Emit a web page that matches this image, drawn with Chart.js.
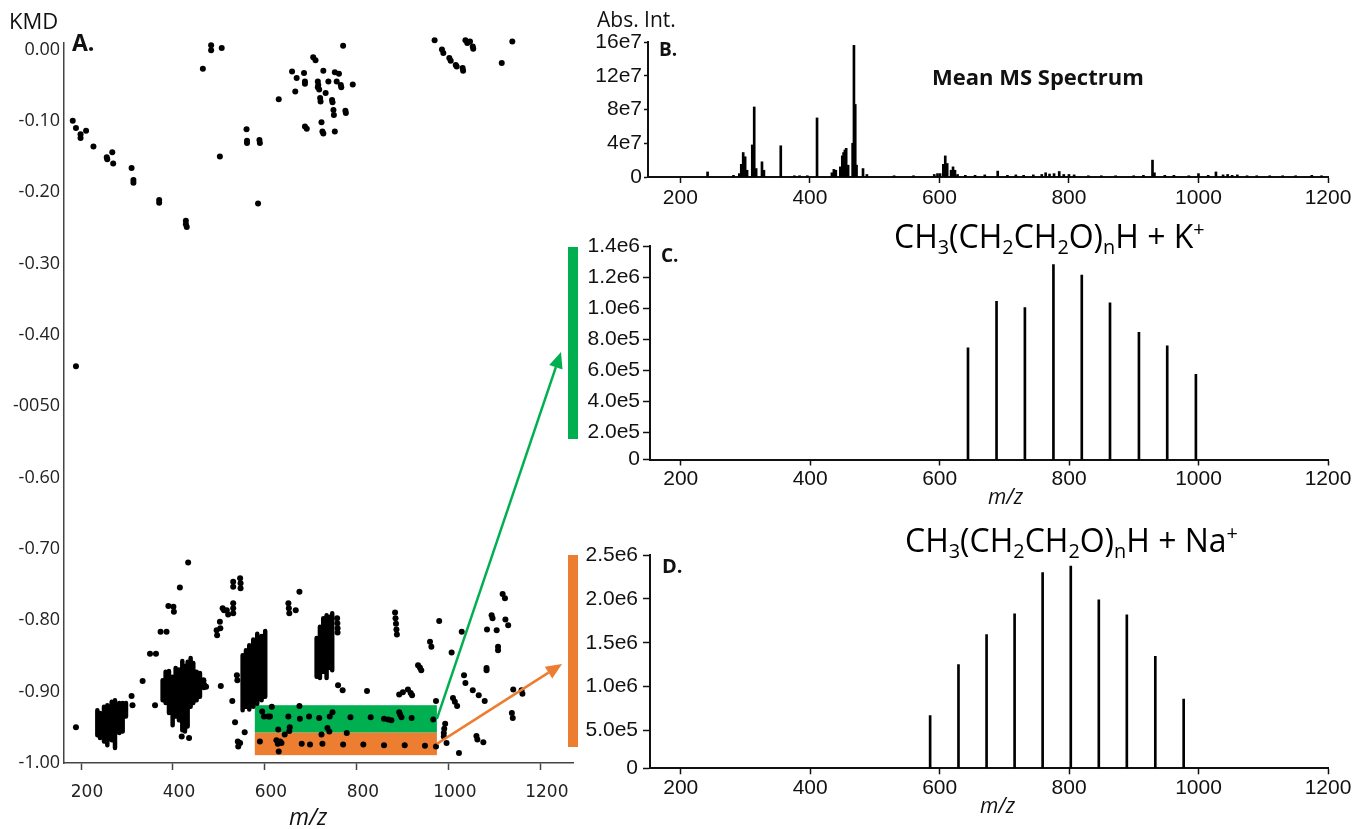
<!DOCTYPE html>
<html>
<head>
<meta charset="utf-8">
<script src="https://cdn.jsdelivr.net/npm/chart.js@4.4.0/dist/chart.umd.min.js"></script>
<style>
  body { margin: 0; background: #fff; }
  #wrap { position: relative; width: 1368px; height: 829px; overflow: hidden; }
  canvas { position: absolute; }
  .t { position: absolute; white-space: nowrap; line-height: 1; color: #111; font-family: "Open Sans", sans-serif; }
  .b { font-weight: bold; }
  .i { font-style: italic; }
  .sub { font-size: 0.62em; position: relative; top: 0.3em; }
  .sup { font-size: 0.62em; position: relative; top: -0.6em; }
</style>
</head>
<body>
<div id="wrap">
  <canvas id="chartA" width="580" height="829" style="left:0;top:0"></canvas>
  <canvas id="chartB" width="788" height="215" style="left:580px;top:0"></canvas>
  <canvas id="chartC" width="788" height="290" style="left:580px;top:220px"></canvas>
  <canvas id="chartD" width="788" height="309" style="left:580px;top:520px"></canvas>

  <div class="t" style="left:9px;top:9px;font-size:22px">KMD</div>
  <div class="t b" style="left:72px;top:31px;font-size:23px">A.</div>
  <div class="t i" style="left:289px;top:805px;font-size:23px">m/z</div>

  <div class="t" style="left:597px;top:9px;font-size:21px">Abs. Int.</div>
  <div class="t b" style="left:659px;top:40px;font-size:19px">B.</div>
  <div class="t b" style="left:932px;top:65px;font-size:22px">Mean MS Spectrum</div>

  <div class="t b" style="left:661px;top:246px;font-size:19px">C.</div>
  <div class="t" style="left:894px;top:220px;font-size:32px;color:#000">CH<span class="sub">3</span>(CH<span class="sub">2</span>CH<span class="sub">2</span>O)<span class="sub">n</span>H + K<span class="sup">+</span></div>
  <div class="t i" style="left:988px;top:486px;font-size:21px">m/z</div>

  <div class="t b" style="left:662px;top:556px;font-size:20px">D.</div>
  <div class="t" style="left:905px;top:524px;font-size:32px;color:#000">CH<span class="sub">3</span>(CH<span class="sub">2</span>CH<span class="sub">2</span>O)<span class="sub">n</span>H + Na<span class="sup">+</span></div>
  <div class="t i" style="left:980px;top:795px;font-size:21px">m/z</div>
</div>

<script>
// ---- panel A: KMD plot, single spots ----
const ptMz = [182, 189, 199, 199, 211, 227, 256, 257, 268, 270, 310, 314, 314, 370, 370, 428, 428, 430,
  465, 483, 483, 506, 502, 560, 561, 561, 588, 589, 585, 630, 659, 669, 666, 685, 687, 687, 705, 710,
  720, 721, 727, 715, 716, 715, 718, 732, 720, 721, 738, 687, 691, 723, 725, 727, 756, 770, 752, 761,
  756, 765, 766, 791, 746, 747, 749, 750, 775, 776, 752, 967, 969, 985, 988, 1001, 1004, 1015, 1017,
  1030, 1031, 1031, 1036, 1040, 1046, 1052, 1053, 1115, 1138, 189,
  189, 310, 312, 334, 361, 350, 363, 373, 386, 390, 401, 402, 415, 433, 419, 435, 466, 468, 472,
  495, 496, 502, 503, 508, 511, 517, 520, 531, 531, 531, 531, 531, 546, 547, 547, 504, 529, 535, 539,
  540, 541, 542, 546, 556, 651, 652, 653, 667, 675, 759, 769, 822, 892, 900, 911, 917, 920, 933, 937,
  940, 959, 962, 972, 979, 1006, 1028, 1033, 1036, 1052, 1065, 1078, 1009, 1013, 1018, 992, 990, 989,
  989, 995, 1022, 1060, 1062, 1075, 1093, 1095, 1117, 1122, 1123, 1129, 1083, 1104, 1107, 1107, 1082,
  1082, 1140, 1158, 1160, 1137, 1139,
  757, 757.5, 758, 758, 883, 884, 885, 886, 887,
  607, 611, 615, 594, 598, 651, 675, 676, 696, 718, 741, 747, 786, 830, 859, 868, 875, 892, 894, 897,
  919, 966, 654, 653, 643, 629, 723, 736, 740, 778, 589, 625, 628, 633, 636, 630, 680, 698, 725, 770,
  814, 859, 904, 948, 972];
const ptKmd = [-0.100, -0.110, -0.119, -0.124, -0.114, -0.136, -0.151, -0.154, -0.144, -0.160, -0.166, -0.183, -0.187, -0.211, -0.215, -0.240, -0.245, -0.249,
  -0.027, 0.006, -0.001, 0.002, -0.150, -0.112, -0.128, -0.131, -0.127, -0.131, -0.216, -0.070, -0.031, -0.040, -0.059, -0.033, -0.045, -0.048, -0.011, -0.015,
  0.018, 0.016, -0.030, -0.045, -0.050, -0.053, -0.056, -0.061, -0.068, -0.073, -0.045, -0.108, -0.111, -0.102, -0.115, -0.118, 0.016, 0.005, -0.032, -0.034,
  -0.045, -0.050, -0.053, -0.049, -0.071, -0.074, -0.085, -0.092, -0.086, -0.089, -0.115, 0.017, 0.013, 0.000, -0.005, -0.012, -0.016, -0.022, -0.024,
  -0.026, -0.030, 0.016, 0.013, 0.009, 0.011, 0.004, 0.001, -0.019, 0.011, -0.444,
  -0.950, -0.906, -0.919, -0.885, -0.919, -0.847, -0.847, -0.816, -0.816, -0.780, -0.781, -0.788, -0.754, -0.719, -0.963, -0.965, -0.884, -0.891, -0.893,
  -0.814, -0.821, -0.802, -0.811, -0.783, -0.786, -0.786, -0.792, -0.776, -0.783, -0.790, -0.746, -0.753, -0.741, -0.748, -0.755, -0.892, -0.913, -0.943, -0.877,
  -0.884, -0.970, -0.977, -0.972, -0.957, -0.776, -0.783, -0.790, -0.786, -0.760, -0.891, -0.898, -0.899, -0.904, -0.901, -0.897, -0.902, -0.905, -0.863, -0.866,
  -0.870, -0.830, -0.837, -0.913, -0.801, -0.845, -0.816, -0.877, -0.888, -0.898, -0.905, -0.913, -0.909, -0.914, -0.920, -0.945, -0.952, -0.958,
  -0.963, -0.972, -0.986, -0.962, -0.967, -0.971, -0.793, -0.797, -0.763, -0.769, -0.799, -0.807, -0.813, -0.814, -0.837, -0.842, -0.867,
  -0.870, -0.897, -0.898, -0.903, -0.930, -0.937,
  -0.797, -0.804, -0.811, -0.817, -0.789, -0.797, -0.805, -0.813, -0.820,
  -0.935, -0.935, -0.921, -0.928, -0.935, -0.935, -0.920, -0.938, -0.935, -0.937, -0.935, -0.929, -0.936, -0.936, -0.938, -0.939, -0.940, -0.929, -0.932, -0.936,
  -0.937, -0.939, -0.950, -0.955, -0.960, -0.953, -0.960, -0.951, -0.956, -0.958, -0.970, -0.968, -0.973, -0.970, -0.972, -0.984, -0.973, -0.974, -0.973, -0.974,
  -0.974, -0.975, -0.975, -0.976, -0.977];

// ---- panel A: dense homologous columns (top / bottom of each stack of spots) ----
const colMz = [235.5, 241.3, 250, 257.2, 266.7, 273.9, 283.3, 290.6, 297.8,
  377.5, 384, 391.3, 399.3, 405.8, 413, 420.3, 426.1, 431.9, 438.4, 444.2, 451.4, 458.7, 467.4,
  551.5, 558.7, 565.9, 574.6, 583.3, 592.8, 600.6,
  712.4, 719.6, 726.8, 734.1, 741.3, 746.3];
const colTop = [-0.926, -0.930, -0.921, -0.919, -0.914, -0.912, -0.916, -0.916, -0.916,
  -0.884, -0.872, -0.871, -0.879, -0.867, -0.869, -0.857, -0.864, -0.858, -0.853, -0.860, -0.872, -0.874, -0.884,
  -0.849, -0.842, -0.835, -0.827, -0.819, -0.822, -0.815,
  -0.825, -0.809, -0.797, -0.793, -0.795, -0.790];
const colBot = [-0.961, -0.965, -0.970, -0.975, -0.968, -0.979, -0.958, -0.956, -0.935,
  -0.912, -0.916, -0.930, -0.947, -0.935, -0.940, -0.954, -0.956, -0.949, -0.921, -0.916, -0.912, -0.907, -0.895,
  -0.926, -0.921, -0.925, -0.921, -0.917, -0.912, -0.907,
  -0.879, -0.881, -0.872, -0.881, -0.867, -0.870];

// selection boxes in panel A
const boxMz = [578, 974];
const greenKmd = [-0.919, -0.9575];
const orangeKmd = [-0.9575, -0.989];

const aXTicks = [200, 400, 600, 800, 1000, 1200];
const aXLabels = ['200', '400', '600', '800', '1000', '1200'];
const aYTicks = [0, -0.1, -0.2, -0.3, -0.4, -0.5, -0.6, -0.7, -0.8, -0.9, -1.0];
const aYLabels = ['0.00', '-0.10', '-0.20', '-0.30', '-0.40', '-0050', '-0.60', '-0.70', '-0.80', '-0.90', '-1.00'];

// ---- panel B: mean spectrum ----
const bMz = [242, 282, 291, 294, 297, 300, 303, 311, 314, 317, 326, 329, 355, 376, 384, 396, 411, 434, 437, 440,
  447, 450, 452, 454, 456, 459, 466, 468, 470, 472, 482, 488, 530, 560, 592, 597, 601, 606, 609, 612,
  618, 621, 624, 628, 640, 655, 670, 690, 705, 718, 730, 745, 758, 764, 770, 777, 785, 792, 800, 808,
  830, 850, 872, 900, 915, 929, 932, 948, 962, 985, 1000, 1015, 1027, 1038, 1045, 1052, 1060, 1075, 1090, 1110,
  1130, 1150, 1175, 1190];
const bInt = [6e6, 2e6, 4e6, 1.5e7, 2.9e7, 2.4e7, 8e6, 3.8e7, 8.3e7, 1.0e7, 1.8e7, 8e6, 3.7e7, 1.5e6, 1.5e6, 1.5e6, 7.0e7, 5e6, 9e6, 8e6,
  1.2e7, 2.5e7, 2.9e7, 3.2e7, 3.4e7, 1.4e7, 4.0e7, 1.56e8, 8.6e7, 1.4e7, 1.0e7, 3e6, 1.5e6, 1.5e6, 3e6, 4e6, 4e6, 1.5e7, 2.5e7, 1.6e7,
  8e6, 1.2e7, 8e6, 3e6, 2e6, 2e6, 2.5e6, 7e6, 2e6, 2.5e6, 2e6, 2.5e6, 3e6, 5e6, 3.5e6, 4e6, 6.5e6, 3e6, 3e6, 2.5e6,
  1.5e6, 1.5e6, 1.5e6, 1.5e6, 2e6, 2.0e7, 5e6, 2e6, 2e6, 1.5e6, 4e6, 2e6, 6e6, 2.5e6, 3e6, 2e6, 2.5e6, 1.5e6, 1.5e6, 1.5e6,
  1.5e6, 1.5e6, 2e6, 1.5e6];
const bYTicks = [0, 4e7, 8e7, 12e7, 16e7];
const bYLabels = ['0', '4e7', '8e7', '12e7', '16e7'];

// ---- panel C: K+ adduct series ----
const kMz = [643.8, 687.9, 731.7, 775.8, 819.6, 863.2, 907.9, 951.6, 995.9];
const kInt = [7.43e5, 1.044e6, 1.003e6, 1.28e6, 1.213e6, 1.033e6, 8.44e5, 7.56e5, 5.73e5];
const cYTicks = [24000, 2e5, 4e5, 6e5, 8e5, 1e6, 1.2e6, 1.4e6];
const cYLabels = ['0', '2.0e5', '4.0e5', '6.0e5', '8.0e5', '1.0e6', '1.2e6', '1.4e6'];

// ---- panel D: Na+ adduct series ----
const naMz = [585.3, 629.1, 672.5, 715.8, 759.1, 802.6, 845.9, 889.2, 933.2, 977.0];
const naInt = [6.71e5, 1.251e6, 1.594e6, 1.83e6, 2.299e6, 2.374e6, 1.99e6, 1.819e6, 1.346e6, 8.59e5];
const dYTicks = [70000, 5e5, 1e6, 1.5e6, 2e6, 2.5e6];
const dYLabels = ['0', '5.0e5', '1.0e6', '1.5e6', '2.0e6', '2.5e6'];

const specXTicks = [200, 400, 600, 800, 1000, 1200];
const specXLabels = ['200', '400', '600', '800', '1000', '1200'];

const GREEN = '#00b050';
const ORANGE = '#ed7d31';

Chart.defaults.font.family = '"Liberation Sans", Arial, sans-serif';
Chart.defaults.color = '#111';

function fixedWidth(w) { return s => { s.width = w; }; }
function fixedHeight(h) { return s => { s.height = h; }; }
function setTicks(vals) { return s => { s.ticks = vals.map(v => ({ value: v })); }; }

function drawArrow(ctx, x0, y0, x1, y1, color) {
    const ang = Math.atan2(y1 - y0, x1 - x0);
    const head = 16, half = 7;
    const bx = x1 - head * Math.cos(ang), by = y1 - head * Math.sin(ang);
    ctx.save();
    ctx.strokeStyle = color;
    ctx.fillStyle = color;
    ctx.lineWidth = 2.5;
    ctx.beginPath();
    ctx.moveTo(x0, y0);
    ctx.lineTo(bx, by);
    ctx.stroke();
    ctx.beginPath();
    ctx.moveTo(x1, y1);
    ctx.lineTo(bx + half * Math.sin(ang), by - half * Math.cos(ang));
    ctx.lineTo(bx - half * Math.sin(ang), by + half * Math.cos(ang));
    ctx.closePath();
    ctx.fill();
    ctx.restore();
}

const selectionPlugin = {
    id: 'selection',
    beforeDatasetsDraw(chart) {
        const { ctx, scales: { x, y } } = chart;
        const x0 = x.getPixelForValue(boxMz[0]);
        const x1 = x.getPixelForValue(boxMz[1]);
        ctx.save();
        ctx.fillStyle = GREEN;
        const g0 = y.getPixelForValue(greenKmd[0]), g1 = y.getPixelForValue(greenKmd[1]);
        ctx.fillRect(x0, g0, x1 - x0, g1 - g0);
        ctx.fillStyle = ORANGE;
        const o0 = y.getPixelForValue(orangeKmd[0]), o1 = y.getPixelForValue(orangeKmd[1]);
        ctx.fillRect(x0, o0, x1 - x0, o1 - o0);
        ctx.restore();
    },
    afterDraw(chart) {
        const { ctx, scales: { x, y } } = chart;
        const xr = x.getPixelForValue(boxMz[1]);
        const gMid = (y.getPixelForValue(greenKmd[0]) + y.getPixelForValue(greenKmd[1])) / 2;
        const oMid = (y.getPixelForValue(orangeKmd[0]) + y.getPixelForValue(orangeKmd[1])) / 2;
        drawArrow(ctx, xr, gMid, 561, 352, GREEN);
        drawArrow(ctx, xr, oMid, 562, 664, ORANGE);
        // bars marking the intensity panels C and D
        ctx.save();
        ctx.fillStyle = GREEN;
        ctx.fillRect(568, 247, 10, 192);
        ctx.fillStyle = ORANGE;
        ctx.fillRect(568, 555, 10, 192);
        ctx.restore();
    }
};

const colPts = [];
colMz.forEach((m, i) => {
    colPts.push({ x: m, y: colTop[i] }, { x: m, y: colBot[i] }, { x: m, y: null });
});

new Chart(document.getElementById('chartA'), {
    type: 'line',
    data: {
        datasets: [{
            data: ptMz.map((m, i) => ({ x: m, y: ptKmd[i] })),
            showLine: false,
            pointRadius: 3,
            pointBackgroundColor: '#000',
            pointBorderColor: '#000',
            pointBorderWidth: 0,
            clip: false
        }, {
            data: colPts,
            pointRadius: 0,
            borderColor: '#000',
            borderWidth: 4.5,
            borderCapStyle: 'round',
            spanGaps: false,
            fill: false,
            clip: false
        }]
    },
    options: {
        responsive: false,
        animation: false,
        events: [],
        plugins: { legend: { display: false }, tooltip: { enabled: false } },
        layout: { padding: { left: 0, top: 43, right: 7, bottom: 0 } },
        scales: {
            x: {
                type: 'linear', min: 163, max: 1270,
                afterFit: fixedHeight(66),
                afterBuildTicks: setTicks(aXTicks),
                ticks: {
                    autoSkip: false, maxRotation: 0, padding: 12, labelOffset: 6, color: '#222',
                    font: { family: '"DejaVu Sans", sans-serif', size: 17 },
                    callback: (v, i) => aXLabels[i]
                },
                grid: { drawOnChartArea: false, tickLength: 7, tickWidth: 1.5, tickColor: '#444' },
                border: { color: '#444', width: 1.5 }
            },
            y: {
                type: 'linear', min: -1.0, max: 0.009,
                afterFit: fixedWidth(64),
                afterBuildTicks: setTicks(aYTicks),
                ticks: {
                    autoSkip: false, padding: 4, color: '#222',
                    font: { family: '"Open Sans", sans-serif', size: 18 },
                    callback: (v, i) => aYLabels[i]
                },
                grid: { display: false, drawTicks: false },
                border: { color: '#444', width: 1.5 }
            }
        }
    },
    plugins: [selectionPlugin]
});

function spectrum(id, mz, inten, o) {
    return new Chart(document.getElementById(id), {
        type: 'bar',
        data: {
            datasets: [{
                data: mz.map((m, i) => ({ x: m, y: inten[i] })),
                backgroundColor: '#000',
                borderWidth: 0,
                barThickness: o.bar
            }]
        },
        options: {
            responsive: false,
            animation: false,
            events: [],
            plugins: { legend: { display: false }, tooltip: { enabled: false } },
            layout: { padding: { left: 0, top: o.top, right: 40, bottom: 0 } },
            scales: {
                x: {
                    type: 'linear', offset: false, min: o.xMin, max: 1200,
                    afterFit: fixedHeight(o.xH),
                    afterBuildTicks: setTicks(specXTicks),
                    ticks: {
                        autoSkip: false, maxRotation: 0, padding: o.xPad,
                        font: { size: 21 },
                        callback: (v, i) => specXLabels[i]
                    },
                    grid: { drawOnChartArea: false, offset: false, tickLength: 6, tickWidth: 1.5, tickColor: '#111' },
                    border: { color: '#111', width: 2 }
                },
                y: {
                    type: 'linear', min: o.yMin, max: o.yMax,
                    afterFit: fixedWidth(o.yW),
                    afterBuildTicks: setTicks(o.yTicks),
                    ticks: {
                        autoSkip: false, padding: o.yPad,
                        font: { size: 21 },
                        callback: (v, i) => o.yLabels[i]
                    },
                    grid: { drawOnChartArea: false, tickLength: o.yTL, tickWidth: 1.5, tickColor: '#111' },
                    border: { color: '#111', width: 2 }
                }
            }
        }
    });
}

spectrum('chartB', bMz, bInt, {
    top: 42, xH: 38, yW: 68, xMin: 150, yMin: 0, yMax: 16e7,
    yTicks: bYTicks, yLabels: bYLabels, yTL: 4, yPad: 2, xPad: 3, bar: 2
});
spectrum('chartC', kMz, kInt, {
    top: 26, xH: 50.5, yW: 70, xMin: 152.5, yMin: 24000, yMax: 1.4e6,
    yTicks: cYTicks, yLabels: cYLabels, yTL: 7, yPad: 3, xPad: 1, bar: 2
});
spectrum('chartD', naMz, naInt, {
    top: 35, xH: 60.7, yW: 70, xMin: 152.5, yMin: 70000, yMax: 2.5e6,
    yTicks: dYTicks, yLabels: dYLabels, yTL: 7, yPad: 5, xPad: 1, bar: 2
});
</script>
</body>
</html>
